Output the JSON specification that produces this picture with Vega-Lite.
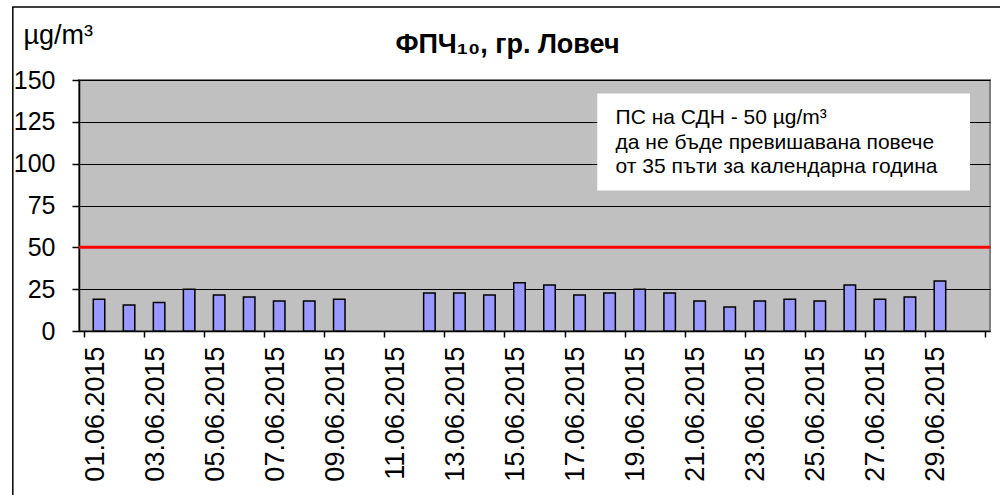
{
  "$schema": "https://vega.github.io/schema/vega-lite/v6.json",
  "width": 911,
  "height": 251,
  "autosize": {"type": "none"},
  "padding": {"left": 79, "top": 80, "right": 10, "bottom": 164},
  "background": "white",
  "title": {
    "text": "ФПЧ₁₀, гр. Ловеч",
    "font": "Liberation Sans",
    "fontSize": 27,
    "fontWeight": "bold",
    "color": "black",
    "anchor": "middle",
    "dx": -27,
    "offset": -53
  },
  "datasets": {
    "pm": [
      {"date": "01.06.2015", "day": 1, "value": 19},
      {"date": "02.06.2015", "day": 2, "value": 15.5},
      {"date": "03.06.2015", "day": 3, "value": 17},
      {"date": "04.06.2015", "day": 4, "value": 25},
      {"date": "05.06.2015", "day": 5, "value": 21.5},
      {"date": "06.06.2015", "day": 6, "value": 20.3},
      {"date": "07.06.2015", "day": 7, "value": 18},
      {"date": "08.06.2015", "day": 8, "value": 18},
      {"date": "09.06.2015", "day": 9, "value": 19},
      {"date": "10.06.2015", "day": 10, "value": null},
      {"date": "11.06.2015", "day": 11, "value": null},
      {"date": "12.06.2015", "day": 12, "value": 22.7},
      {"date": "13.06.2015", "day": 13, "value": 22.7},
      {"date": "14.06.2015", "day": 14, "value": 21.5},
      {"date": "15.06.2015", "day": 15, "value": 28.9},
      {"date": "16.06.2015", "day": 16, "value": 27.5},
      {"date": "17.06.2015", "day": 17, "value": 21.5},
      {"date": "18.06.2015", "day": 18, "value": 22.7},
      {"date": "19.06.2015", "day": 19, "value": 25},
      {"date": "20.06.2015", "day": 20, "value": 22.7},
      {"date": "21.06.2015", "day": 21, "value": 18},
      {"date": "22.06.2015", "day": 22, "value": 14.4},
      {"date": "23.06.2015", "day": 23, "value": 18},
      {"date": "24.06.2015", "day": 24, "value": 19},
      {"date": "25.06.2015", "day": 25, "value": 18},
      {"date": "26.06.2015", "day": 26, "value": 27.5},
      {"date": "27.06.2015", "day": 27, "value": 19},
      {"date": "28.06.2015", "day": 28, "value": 20.3},
      {"date": "29.06.2015", "day": 29, "value": 29.9},
      {"date": "30.06.2015", "day": 30, "value": null}
    ],
    "limit": [{"limit": 50}],
    "frame": [{"fx1": -1.87, "fx2": 33, "fy1": 193.6, "fy2": -120}],
    "box": [{"bx1": 17.59, "bx2": 30.0, "by1": 84, "by2": 142}],
    "note": [
      {"tx": 18.2, "ty": 127.3, "line": "ПС на СДН  - 50 µg/m³"},
      {"tx": 18.2, "ty": 112.4, "line": "да не бъде превишавана повече"},
      {"tx": 18.2, "ty": 98.0, "line": "от 35 пъти за календарна година"}
    ]
  },
  "config": {
    "view": {"fill": "#C0C0C0", "stroke": "#808080", "strokeWidth": 2},
    "font": "Liberation Sans"
  },
  "layer": [
    {
      "data": {"name": "pm"},
      "mark": {"type": "bar", "fill": "#9999FF", "stroke": "black", "strokeWidth": 1.5, "size": 11.5},
      "encoding": {
        "x": {
          "field": "day",
          "type": "quantitative",
          "scale": {"domain": [0.5, 30.5], "nice": false, "zero": false},
          "axis": {
            "title": null,
            "values": [0.5,1.5,2.5,3.5,4.5,5.5,6.5,7.5,8.5,9.5,10.5,11.5,12.5,13.5,14.5,15.5,16.5,17.5,18.5,19.5,20.5,21.5,22.5,23.5,24.5,25.5,26.5,27.5,28.5,29.5,30.5],
            "labelExpr": "((datum.value + 0.5) % 2 == 1 && datum.value < 30) ? ((datum.value + 0.5 < 10 ? '0' : '') + (datum.value + 0.5) + '.06.2015') : ''",
            "labelAngle": -90,
            "labelAlign": "right",
            "labelBaseline": "middle",
            "labelFontSize": 27,
            "labelColor": "black",
            "labelPadding": 9,
            "labelOffset": 11,
            "labelOverlap": false,
            "labelBound": false,
            "labelFlush": false,
            "tickColor": "black",
            "tickSize": 6,
            "tickWidth": 1.5,
            "domainColor": "black",
            "domainWidth": 1.5,
            "grid": false
          }
        },
        "y": {
          "field": "value",
          "type": "quantitative",
          "scale": {"domain": [0, 150], "nice": false},
          "axis": {
            "values": [0, 25, 50, 75, 100, 125, 150],
            "title": "µg/m³",
            "titleAngle": 0,
            "titleAlign": "left",
            "titleBaseline": "alphabetic",
            "titleX": -56,
            "titleY": -37,
            "titleFontSize": 27,
            "titleFontWeight": "normal",
            "titleColor": "black",
            "labelFontSize": 25,
            "labelColor": "black",
            "labelPadding": 17,
            "labelFlush": false,
            "tickColor": "black",
            "tickSize": 7,
            "tickWidth": 1.5,
            "domainColor": "black",
            "domainWidth": 1.5,
            "grid": true,
            "gridColor": "black",
            "gridWidth": 1.2
          }
        }
      }
    },
    {
      "data": {"name": "limit"},
      "mark": {"type": "rule", "color": "#FF0000", "strokeWidth": 3},
      "encoding": {"y": {"field": "limit", "type": "quantitative"}}
    },
    {
      "data": {"name": "box"},
      "mark": {"type": "rect", "fill": "white"},
      "encoding": {
        "x": {"field": "bx1", "type": "quantitative"},
        "x2": {"field": "bx2"},
        "y": {"field": "by1", "type": "quantitative"},
        "y2": {"field": "by2"}
      }
    },
    {
      "data": {"name": "note"},
      "mark": {"type": "text", "align": "left", "baseline": "middle", "fontSize": 21, "color": "black"},
      "encoding": {
        "x": {"field": "tx", "type": "quantitative"},
        "y": {"field": "ty", "type": "quantitative"},
        "text": {"field": "line"}
      }
    },
    {
      "data": {"name": "frame"},
      "mark": {"type": "rect", "fill": null, "fillOpacity": 0, "stroke": "black", "strokeWidth": 1.5, "clip": false},
      "encoding": {
        "x": {"field": "fx1", "type": "quantitative"},
        "x2": {"field": "fx2"},
        "y": {"field": "fy1", "type": "quantitative"},
        "y2": {"field": "fy2"}
      }
    }
  ]
}
